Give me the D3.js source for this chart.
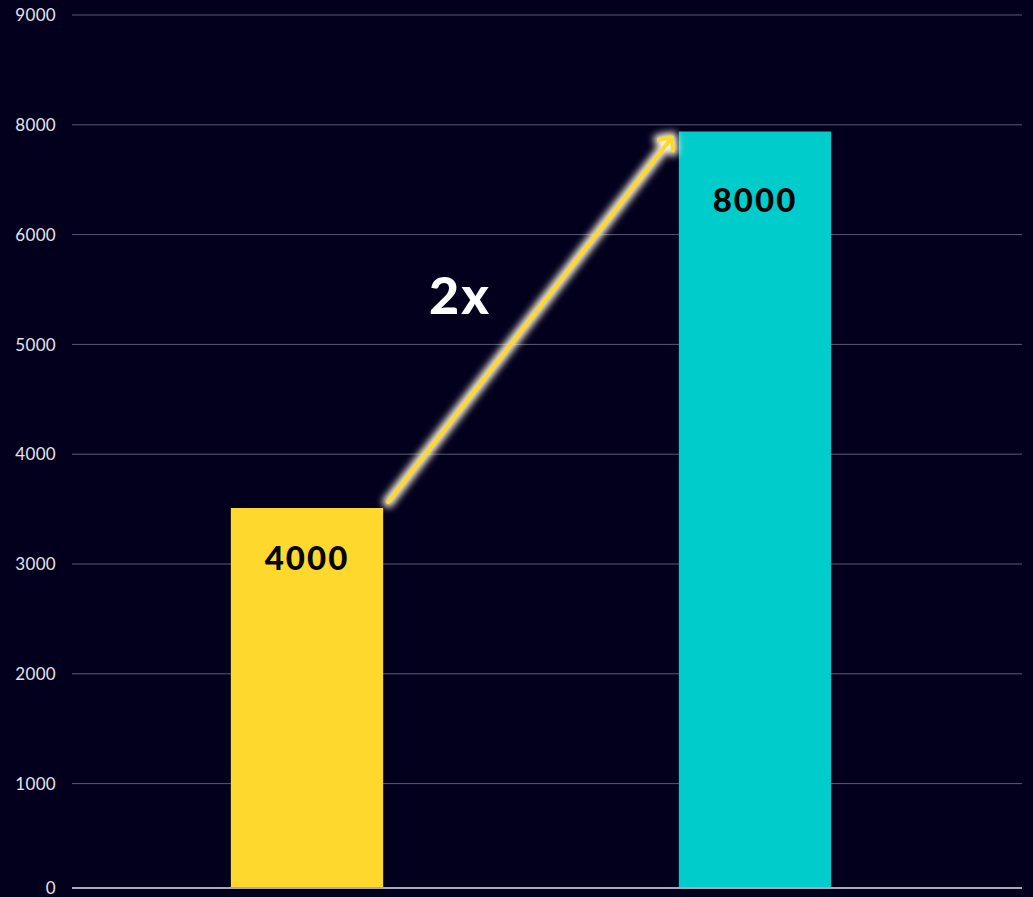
<!DOCTYPE html>
<html>
<head>
<meta charset="utf-8">
<script src="https://cdn.jsdelivr.net/npm/d3@7"></script>
<style>
  html, body { margin: 0; padding: 0; background: #03001e; }
  svg { display: block; }
</style>
</head>
<body>
<svg id="chart" width="1033" height="897"></svg>
<script>
// Data
const categories = ["Before", "After"];
const values = [4000, 8000];
const barColors = ["#ffd82e", "#00cccb"];
const tickLabels = ["0", "1000", "2000", "3000", "4000", "5000", "6000", "8000", "9000"];
const multiplierLabel = "2x";

const W = 1033, H = 897;
const plotLeft = 72, plotRight = 1022;
const baseY = 888;

const svg = d3.select("#chart");

// Background
svg.append("rect").attr("width", W).attr("height", H).attr("fill", "#03001e");

// Scales
const x = d3.scaleBand()
  .domain(categories)
  .range([83, 979])
  .paddingInner(0.66)
  .paddingOuter(0.33);

const yBar = d3.scaleLinear().domain([0, 8000]).range([884.5, 131.5]);

// Grid / axis scale: evenly spaced tick labels
const yTick = d3.scalePoint().domain(tickLabels).range([893.4, 15]);
const tickPos = d => Math.min(yTick(d), baseY);

// Gridlines
svg.append("g")
  .selectAll("line")
  .data(tickLabels.slice(1))
  .join("line")
  .attr("x1", plotLeft).attr("x2", plotRight)
  .attr("y1", d => tickPos(d)).attr("y2", d => tickPos(d))
  .attr("stroke", "#5b5a73")
  .attr("stroke-width", 1);

// Left axis labels
const axis = d3.axisLeft(d3.scaleOrdinal().domain(tickLabels).range(tickLabels.map(tickPos)))
  .tickSize(0).tickPadding(0);
const axisG = svg.append("g")
  .attr("transform", `translate(56,0)`)
  .call(axis);
axisG.select(".domain").remove();
axisG.selectAll("text")
  .attr("fill", "#e4e4ec")
  .attr("font-family", "Lato, 'Noto Sans', sans-serif")
  .attr("font-size", 17)
  .attr("letter-spacing", 0.3)
  .attr("dy", "0.34em");

// Bars
svg.append("g")
  .selectAll("rect")
  .data(values)
  .join("rect")
  .attr("x", (d, i) => x(categories[i]))
  .attr("width", x.bandwidth())
  .attr("y", d => yBar(d))
  .attr("height", d => baseY - yBar(d))
  .attr("fill", (d, i) => barColors[i]);

// Baseline
svg.append("line")
  .attr("x1", plotLeft).attr("x2", plotRight)
  .attr("y1", baseY).attr("y2", baseY)
  .attr("stroke", "#a9a8b8")
  .attr("stroke-width", 2);

// Value labels inside bars
const labelDy = [62, 80];
svg.append("g")
  .selectAll("text")
  .data(values)
  .join("text")
  .attr("x", (d, i) => x(categories[i]) + x.bandwidth() / 2)
  .attr("y", (d, i) => yBar(d) + labelDy[i])
  .attr("text-anchor", "middle")
  .attr("font-family", "Lato, sans-serif")
  .attr("font-weight", 900)
  .attr("font-size", 33)
  .attr("letter-spacing", 2)
  .attr("fill", "#050505")
  .text(d => d3.format("d")(d));

// Glowing growth arrow between the two bar tops
const defs = svg.append("defs");
const glow = defs.append("filter").attr("id", "glow")
  .attr("x", "-20%").attr("y", "-20%").attr("width", "140%").attr("height", "140%");
glow.append("feGaussianBlur").attr("stdDeviation", 3.6);

const x0 = x(categories[0]) + x.bandwidth() + 5, y0 = yBar(values[0]) - 6;
const x1 = x(categories[1]) - 7, y1 = yBar(values[1]) + 6;
const ang = Math.atan2(y1 - y0, x1 - x0);
const armLen = 13, armAng = Math.PI / 4.2;
const p = d3.path();
p.moveTo(x0, y0); p.lineTo(x1, y1);
p.moveTo(x1 + armLen * Math.cos(ang + Math.PI - armAng), y1 + armLen * Math.sin(ang + Math.PI - armAng));
p.lineTo(x1, y1);
p.lineTo(x1 + armLen * Math.cos(ang + Math.PI + armAng), y1 + armLen * Math.sin(ang + Math.PI + armAng));
const arrowD = p.toString();

svg.append("path")
  .attr("d", arrowD)
  .attr("fill", "none")
  .attr("stroke", "#fff8e0")
  .attr("stroke-width", 11)
  .attr("stroke-linecap", "round")
  .attr("stroke-linejoin", "round")
  .attr("filter", "url(#glow)");
svg.append("path")
  .attr("d", arrowD)
  .attr("fill", "none")
  .attr("stroke", "#ffd82e")
  .attr("stroke-width", 4)
  .attr("stroke-linecap", "round")
  .attr("stroke-linejoin", "round");

// Multiplier label
svg.append("text")
  .attr("x", 460)
  .attr("y", 314)
  .attr("text-anchor", "middle")
  .attr("font-family", "Lato, sans-serif")
  .attr("font-weight", 900)
  .attr("font-size", 52)
  .attr("letter-spacing", 2)
  .attr("fill", "#ffffff")
  .text(multiplierLabel);
</script>
</body>
</html>
